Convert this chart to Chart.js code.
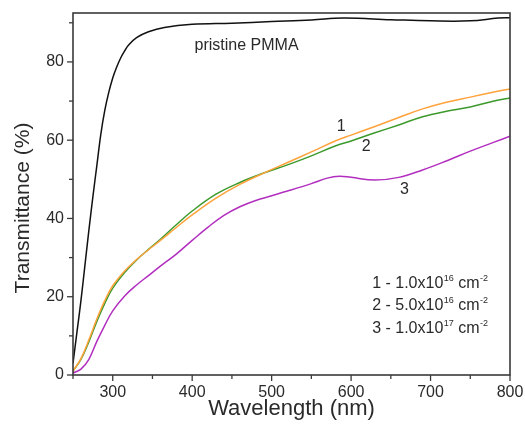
<!DOCTYPE html>
<html>
<head>
<meta charset="utf-8">
<script src="https://cdn.jsdelivr.net/npm/chart.js@4.4.1/dist/chart.umd.min.js"></script>
<style>
html,body{margin:0;padding:0;background:#fff;}
#wrap{width:525px;height:439px;position:relative;}
</style>
</head>
<body>
<div id="wrap"><canvas id="c" width="525" height="439"></canvas></div>
<script>
// ---- data ----
const wlPristine = [250,255,260,265,270,275,280,285,290,295,300,305,310,315,320,330,345,365,400,450,500,550,590,650,700,750,785,800];
const tPristine  = [3,11,19,28,37,45.5,53.5,61.5,67.6,72.2,75.9,78.7,81,82.8,84.3,86.2,87.7,88.8,89.6,89.9,90.3,90.7,91.2,90.8,90.5,90.5,91.2,91.3];

const wl = [250,260,270,280,290,300,315,330,345,360,380,400,430,460,490,520,550,580,600,630,660,690,720,750,780,800];
const t1 = [1,4.2,9,14.3,19,22.8,26.6,29.5,32,34.4,37.7,40.9,45.2,48.7,51.6,54.3,57,59.8,61.3,63.5,65.8,68,69.7,71,72.3,73.1];
const t2 = [1,4,8.5,13.7,18.3,22.2,26.2,29.4,32.1,34.7,38.4,41.9,46.2,49.2,51.6,53.7,56,58.5,59.8,61.9,63.9,66,67.4,68.5,70,70.8];

const wl3 = [250,260,270,280,290,300,315,330,345,360,380,400,420,440,460,480,500,520,550,570,585,600,630,660,690,720,750,780,800];
const t3  = [0.5,1.5,4,8.6,12.7,16.4,20.2,23,25.4,27.8,30.9,34.4,37.8,40.8,43,44.6,45.8,47,48.9,50.3,50.8,50.5,49.8,50.5,52.4,54.7,57.2,59.5,61];

const xTickLabels = [300,400,500,600,700,800];
const yTickLabels = [0,20,40,60,80];

const seriesNames = ['pristine PMMA','1','2','3'];
const legendRows = [
  ['1 - 1.0x10','16',' cm','-2'],
  ['2 - 5.0x10','16',' cm','-2'],
  ['3 - 1.0x10','17',' cm','-2']
];
// ---------------

const toXY = (xs, ys) => xs.map((x,i)=>({x:x,y:ys[i]}));
const FONT = '"Liberation Sans", Arial, sans-serif';
const TXT = '#2a2a2a';

const deco = {
  id:'deco',
  afterDatasetsDraw(chart){
    const ctx = chart.ctx, a = chart.chartArea;
    const xs = chart.scales.x, ys = chart.scales.y;
    ctx.save();
    // frame
    ctx.strokeStyle = '#3a3a3a';
    ctx.lineWidth = 1.6;
    ctx.strokeRect(a.left, a.top, a.right-a.left, a.bottom-a.top);
    // ticks
    ctx.lineWidth = 1.3;
    for (let v=250; v<=800; v+=50){
      const px = xs.getPixelForValue(v);
      const len = (v%100===0)?6:4;
      ctx.beginPath(); ctx.moveTo(px, a.bottom); ctx.lineTo(px, a.bottom+len); ctx.stroke();
    }
    for (let v=0; v<=90; v+=10){
      const py = ys.getPixelForValue(v);
      const len = (v%20===0)?6:4;
      ctx.beginPath(); ctx.moveTo(a.left, py); ctx.lineTo(a.left-len, py); ctx.stroke();
    }
    // tick labels
    ctx.fillStyle = TXT;
    ctx.font = '16px ' + FONT;
    ctx.textAlign = 'center'; ctx.textBaseline = 'top';
    xTickLabels.forEach(v=>{ ctx.fillText(String(v), xs.getPixelForValue(v), a.bottom+10); });
    ctx.textAlign = 'right'; ctx.textBaseline = 'middle';
    yTickLabels.forEach(v=>{ ctx.fillText(String(v), a.left-9, ys.getPixelForValue(v)); });
    // axis titles
    ctx.font = '22px ' + FONT;
    ctx.textAlign = 'center'; ctx.textBaseline = 'middle';
    ctx.fillText('Wavelength (nm)', (a.left+a.right)/2, 409);
    ctx.save();
    ctx.font = '21px ' + FONT;
    ctx.translate(23, (a.top+a.bottom)/2 + 14);
    ctx.rotate(-Math.PI/2);
    ctx.fillText('Transmittance (%)', 0, 0);
    ctx.restore();
    // annotations
    ctx.font = '16px ' + FONT;
    ctx.textAlign = 'left'; ctx.textBaseline = 'alphabetic';
    ctx.fillText(seriesNames[0], xs.getPixelForValue(403), ys.getPixelForValue(83));
    ctx.textAlign = 'center'; ctx.textBaseline = 'middle';
    ctx.fillText(seriesNames[1], xs.getPixelForValue(587.5), ys.getPixelForValue(63.5));
    ctx.fillText(seriesNames[2], xs.getPixelForValue(619), ys.getPixelForValue(58.3));
    ctx.fillText(seriesNames[3], xs.getPixelForValue(667), ys.getPixelForValue(47.4));
    // legend text with superscripts
    ctx.textAlign = 'left'; ctx.textBaseline = 'alphabetic';
    const lx = xs.getPixelForValue(626.5);
    const baseVals = [22.2, 16.5, 10.8];
    legendRows.forEach((r,i)=>{
      let x = lx; const y = ys.getPixelForValue(baseVals[i]);
      ctx.font = '16px ' + FONT; ctx.fillText(r[0], x, y); x += ctx.measureText(r[0]).width + 0.5;
      ctx.font = '9px ' + FONT; ctx.fillText(r[1], x, y-7); x += ctx.measureText(r[1]).width;
      ctx.font = '16px ' + FONT; ctx.fillText(r[2], x, y); x += ctx.measureText(r[2]).width + 0.5;
      ctx.font = '9px ' + FONT; ctx.fillText(r[3], x, y-7);
    });
    ctx.restore();
  }
};

const mk = (label, data, color) => ({
  label, data, borderColor: color, backgroundColor: color,
  borderWidth: 1.5, pointRadius: 0, fill: false, tension: 0.4
});

new Chart(document.getElementById('c'), {
  type: 'line',
  data: {
    datasets: [
      mk(seriesNames[0], toXY(wlPristine, tPristine), '#111111'),
      mk(seriesNames[1], toXY(wl, t1), '#ffa23c'),
      mk(seriesNames[2], toXY(wl, t2), '#3c9a2c'),
      mk(seriesNames[3], toXY(wl3, t3), '#b22ebf')
    ]
  },
  options: {
    responsive: false,
    animation: false,
    devicePixelRatio: 1,
    layout: { padding: { left: 0, right: 15, top: 13, bottom: 0 } },
    plugins: { legend: { display: false }, tooltip: { enabled: false } },
    scales: {
      x: {
        type: 'linear', min: 250, max: 800,
        grid: { display: false }, border: { display: false },
        ticks: { display: false },
        afterFit: s => { s.height = 64; }
      },
      y: {
        type: 'linear', min: 0, max: 92.5,
        grid: { display: false }, border: { display: false },
        ticks: { display: false },
        afterFit: s => { s.width = 73; }
      }
    }
  },
  plugins: [deco]
});
</script>
</body>
</html>
